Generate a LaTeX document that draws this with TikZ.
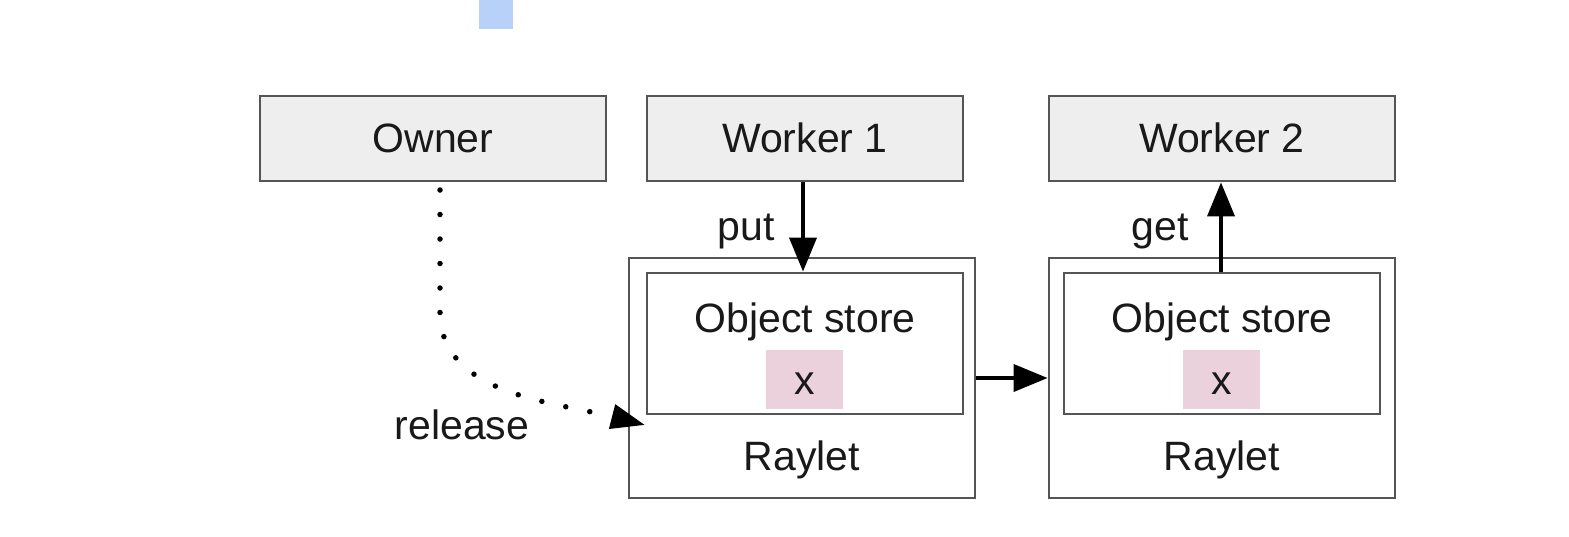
\documentclass[tikz,border=0pt]{standalone}
\usepackage{fontspec}
\setmainfont{Liberation Sans}
\usetikzlibrary{arrows.meta}
\definecolor{boxfill}{HTML}{EEEEEE}
\definecolor{boxline}{HTML}{555555}
\definecolor{pinkfill}{HTML}{EAD1DC}
\definecolor{bluefill}{HTML}{B8D1F9}
\tikzset{
  gbox/.style={draw=boxline, line width=2.8pt, fill=boxfill, inner sep=0pt},
  wbox/.style={draw=boxline, line width=2.8pt, fill=white, inner sep=0pt},
  pbox/.style={fill=pinkfill, draw=none, inner sep=0pt},
  txt/.style={inner sep=0pt, anchor=base, font=\fontsize{41}{49}\selectfont, text=black!90},
  arr/.style={line width=3.8pt, -{Triangle[length=34pt,width=27pt]}},
  dotarr/.style={line width=5.5pt, line cap=round, dash pattern=on 0pt off 24.5pt, -{Triangle[length=34pt,width=24pt]}}
}
\begin{document}
\begin{tikzpicture}[x=1pt,y=-1pt]
\useasboundingbox (0,0) rectangle (1569,536);
\fill[white] (0,0) rectangle (1569,536);
\fill[bluefill] (479,0) rectangle (513,29);
% top boxes
\node[gbox, minimum width=346pt, minimum height=85pt] (own) at (433,138.5) {};
\node[gbox, minimum width=316pt, minimum height=85pt] (w1) at (805,138.5) {};
\node[gbox, minimum width=346pt, minimum height=85pt] (w2) at (1222,138.5) {};
\node[txt] (ownt) at (433,152) {Owner};
\node[txt] (w1t) at (805,152) {Worker 1};
\node[txt] (w2t) at (1222,152) {Worker 2};
% raylets
\node[wbox, minimum width=346pt, minimum height=240pt] (r1) at (802,378) {};
\node[wbox, minimum width=316pt, minimum height=141pt] (o1) at (805,343.5) {};
\node[pbox, minimum width=77pt, minimum height=59pt] (p1) at (804.5,379.5) {};
\node[txt] (o1t) at (805,332) {Object store};
\node[txt] (p1t) at (804.5,394) {x};
\node[txt] (r1t) at (802,470) {Raylet};
\node[wbox, minimum width=346pt, minimum height=240pt] (r2) at (1222,378) {};
\node[wbox, minimum width=316pt, minimum height=141pt] (o2) at (1222,343.5) {};
\node[pbox, minimum width=77pt, minimum height=59pt] (p2) at (1221.5,379.5) {};
\node[txt] (o2t) at (1222,332) {Object store};
\node[txt] (p2t) at (1221.5,394) {x};
\node[txt] (r2t) at (1222,470) {Raylet};
% arrows
\draw[arr] (w1.south -| 803,0) -- (o1.north -| 803,0);
\draw[arr] (o2.north -| 1221,0) -- (w2.south -| 1221,0);
\draw[arr] (r1.east) -- (r2.west);
\node[txt] (putl) at (746,240) {put};
\node[txt] (getl) at (1160,240) {get};
\node[txt] (rell) at (462,439) {release};
\coordinate (rs) at (440,190);
\coordinate (re) at (645,425);
\draw[dotarr] (rs) -- (440,312) .. controls (440,395) and (555,402) .. (re);
\end{tikzpicture}
\end{document}
